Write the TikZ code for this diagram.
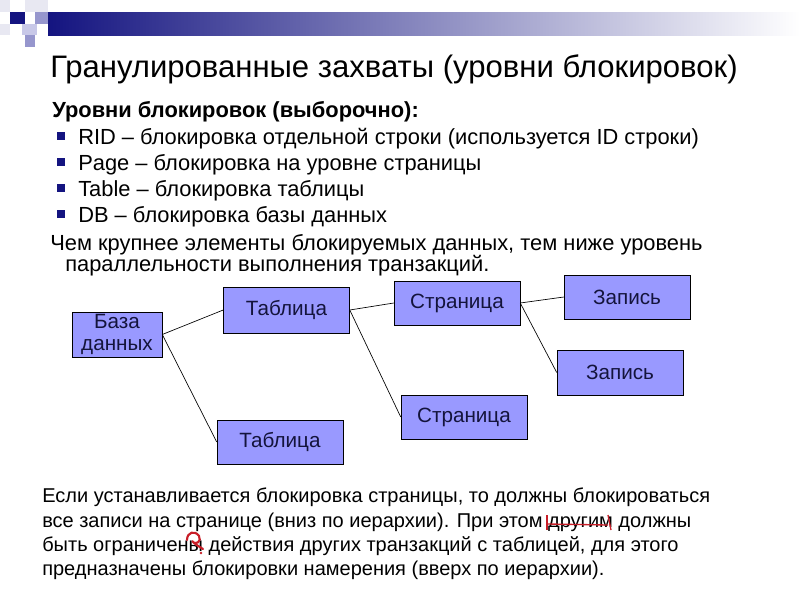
\documentclass[tikz,border=0pt]{standalone}
\usepackage{fontspec}
\setmainfont{Liberation Sans}
\usetikzlibrary{positioning}

\definecolor{navy}{RGB}{20,20,128}
\definecolor{midlav}{RGB}{150,150,205}
\definecolor{litlav}{RGB}{200,200,232}
\definecolor{palelav}{RGB}{232,232,242}
\definecolor{boxblue}{RGB}{153,153,255}
\definecolor{boxtext}{RGB}{20,20,60}
\definecolor{penred}{RGB}{200,30,40}

\tikzset{
  box/.style={draw, fill=boxblue, text=boxtext, inner sep=0pt,
    minimum width=94.5pt, minimum height=33pt, font=\fontsize{15.5}{17}\selectfont},
  link/.style={line width=0.5pt},
  txt/.style={anchor=base west, inner sep=0pt, font=\fontsize{16.4}{19}\selectfont},
  bottomtxt/.style={anchor=base west, inner sep=0pt, font=\fontsize{15}{18}\selectfont},
  bullet/.style={fill=navy, minimum size=6pt, inner sep=0pt},
}

\begin{document}
\begin{tikzpicture}[x=0.75pt, y=-0.75pt]

  \useasboundingbox (0, 0) rectangle (800, 600);

  % header bar and squares
  \shade[left color=navy, right color=white] (48, 12) rectangle (800, 35);
  \fill[palelav] (0, 0) rectangle (10, 12);
  \fill[palelav] (25, 0) rectangle (48, 12);
  \fill[navy] (10, 12) rectangle (25, 24);
  \fill[midlav] (35, 12) rectangle (48, 24);
  \fill[palelav] (0, 24) rectangle (10, 35);
  \fill[litlav] (22, 24) rectangle (37, 35);
  \fill[midlav] (25, 35) rectangle (35, 47);

  \node[anchor=base west, inner sep=0pt, font=\fontsize{23.3}{27}\selectfont] (title) at (50, 77)
    {Гранулированные захваты (уровни блокировок)};

  \node[txt, font=\bfseries\fontsize{16.4}{19}\selectfont] (head) at (52, 117)
    {Уровни блокировок (выборочно):};

  \node[txt] (rid) at (78, 144) {RID – блокировка отдельной строки (используется ID строки)};
  \node[txt] (page) at (78, 170) {Page – блокировка на уровне страницы};
  \node[txt] (table) at (78, 196) {Table – блокировка таблицы};
  \node[txt] (dbline) at (78, 222) {DB – блокировка базы данных};
  \foreach \n in {rid, page, table, dbline}
    \node[bullet] at ([xshift=-13pt, yshift=6pt]\n.base west) {};

  \node[txt] (big1) at (50, 250) {Чем крупнее элементы блокируемых данных, тем ниже уровень};
  \node[txt] (big2) at (65, 271) {параллельности выполнения транзакций.};

  % hierarchy
  \node[box, minimum width=67.5pt, minimum height=33.75pt, align=center] (db) at (117, 334.5) {База\\данных};
  \node[box, minimum height=34.5pt] (tabA) at (286.5, 310) {Таблица};
  \node[box] (tabB) at (280, 442) {Таблица};
  \node[box] (pageA) at (457, 303) {Страница};
  \node[box] (pageB) at (464, 417) {Страница};
  \node[box] (recA) at (627, 297) {Запись};
  \node[box, minimum height=33.75pt] (recB) at (620, 372.5) {Запись};

  \draw[link] (db.east) -- (tabA.west);
  \draw[link] (db.east) -- (tabB.west);
  \draw[link] (tabA.east) -- (pageA.west);
  \draw[link] (tabA.east) -- (pageB.west);
  \draw[link] (pageA.east) -- (recA.west);
  \draw[link] (pageA.east) -- (recB.west);

  \node[bottomtxt] (n1) at (42, 502) {Если устанавливается блокировка страницы, то должны блокироваться};
  \node[bottomtxt] (n2) at (42, 527) {все записи на странице (вниз по иерархии). При этом другим должны};
  \node[bottomtxt] (n3) at (42, 551) {быть ограничены действия других транзакций с таблицей, для этого};
  \node[bottomtxt] (n4) at (42, 575) {предназначены блокировки намерения (вверх по иерархии).};

  % red pen marks
  \draw[penred, line width=1pt] (547, 515) -- (547, 530);
  \draw[penred, line width=1pt] (547, 524) -- (608, 525);
  \draw[penred, line width=1pt] (608, 515) -- (611, 530);
  \draw[penred, line width=1.6pt, line cap=round] (187, 540) .. controls (187, 532) and (195, 530) .. (199, 536)
    .. controls (202, 541) and (196, 546) .. (192, 541) .. controls (196, 545) and (200, 547) .. (203, 549);
  \fill[penred] (201, 553) circle (1.3);

\end{tikzpicture}
\end{document}
